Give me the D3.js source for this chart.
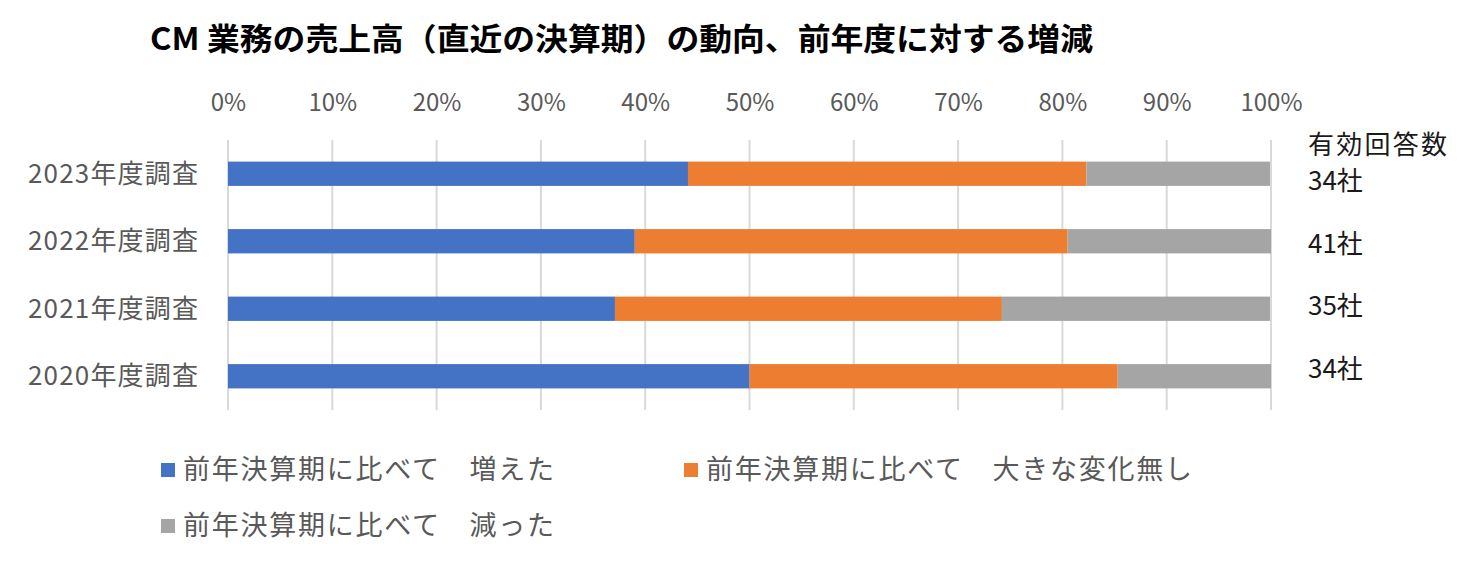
<!DOCTYPE html>
<html lang="ja">
<head>
<meta charset="UTF-8">
<title>CM業務の売上高の動向</title>
<script src="https://cdnjs.cloudflare.com/ajax/libs/d3/7.8.5/d3.min.js"></script>
<style>
  body { margin: 0; background: #fff; }
  svg text { font-family: "Noto Sans CJK JP", "Noto Sans", sans-serif; }
</style>
</head>
<body>
<div id="chart"></div>
<script>
// survey years, top to bottom
const categories = ["2023年度調査", "2022年度調査", "2021年度調査", "2020年度調査"];
const seriesNames = ["前年決算期に比べて　増えた", "前年決算期に比べて　大きな変化無し", "前年決算期に比べて　減った"];
const seriesColors = ["#4472c4", "#ed7d31", "#a5a5a5"];
// share of respondents (%)
const increased = [44.1, 39.0, 37.1, 50.0];
const unchanged = [38.2, 41.5, 37.1, 35.3];
const decreased = [17.6, 19.5, 25.7, 14.7];
const respondents = ["34社", "41社", "35社", "34社"];
const tickValues = [0, 10, 20, 30, 40, 50, 60, 70, 80, 90, 100];

const W = 1478, H = 561;
const margin = { left: 228, right: 207 };

const svg = d3.select("#chart").append("svg")
  .attr("width", W).attr("height", H);

svg.append("text")
  .attr("x", 150).attr("y", 50)
  .attr("font-size", 31).attr("font-weight", "bold")
  .attr("fill", "#000")
  .attr("textLength", 943).attr("lengthAdjust", "spacingAndGlyphs")
  .text("CM 業務の売上高（直近の決算期）の動向、前年度に対する増減");

const x = d3.scaleLinear().domain([0, 100]).range([margin.left, W - margin.right]);
const y = d3.scaleBand().domain(categories).range([140, 410]).paddingInner(0.64).paddingOuter(0.32);

// gridlines
svg.append("g").selectAll("line").data(tickValues).join("line")
  .attr("x1", d => x(d)).attr("x2", d => x(d))
  .attr("y1", 140).attr("y2", 410)
  .attr("stroke", "#d9d9d9").attr("stroke-width", 2);

// top axis labels
const axis = svg.append("g").attr("transform", "translate(0,111)")
  .call(d3.axisTop(x).tickValues(tickValues).tickFormat(d => d + "%").tickSize(0).tickPadding(0));
axis.select(".domain").remove();
axis.selectAll("text")
  .attr("font-family", "'Open Sans', 'Noto Sans', sans-serif")
  .attr("font-size", 24).attr("fill", "#595959");

// stacked bars
const rows = categories.map((c, i) => ({ cat: c, vals: [increased[i], unchanged[i], decreased[i]] }));
const stack = rows.map(r => {
  let acc = 0;
  return r.vals.map((v, k) => { const s = { cat: r.cat, k, x0: acc, x1: acc + v }; acc += v; return s; });
}).flat();

svg.append("g").selectAll("rect").data(stack).join("rect")
  .attr("x", d => x(d.x0))
  .attr("width", d => x(d.x1) - x(d.x0))
  .attr("y", d => y(d.cat))
  .attr("height", y.bandwidth())
  .attr("fill", d => seriesColors[d.k]);

// category labels
svg.append("g").selectAll("text").data(categories).join("text")
  .attr("x", 198).attr("y", d => y(d) + y.bandwidth() / 2)
  .attr("dy", "0.35em").attr("text-anchor", "end")
  .attr("font-size", 26).attr("fill", "#595959")
  .attr("textLength", 170).attr("lengthAdjust", "spacing")
  .text(d => d);

// respondents (text boxes at the right)
const ry = d3.scaleLinear().domain([0, 3]).range([181, 369]);
svg.append("text").attr("x", 1308).attr("y", 145).attr("dy", "0.35em")
  .attr("font-size", 26).attr("fill", "#1a1a1a")
  .attr("textLength", 139).attr("lengthAdjust", "spacing")
  .text("有効回答数");
svg.append("g").selectAll("text").data(respondents).join("text")
  .attr("x", 1308).attr("y", (d, i) => ry(i))
  .attr("dy", "0.35em")
  .attr("font-size", 26).attr("fill", "#1a1a1a")
  .text(d => d);

// legend
const legendPos = [[161, 470], [684, 470], [161, 526]];
const legendLen = [371, 486, 371];
const lg = svg.append("g").selectAll("g").data(seriesNames).join("g")
  .attr("transform", (d, i) => `translate(${legendPos[i][0]},${legendPos[i][1]})`);
lg.append("rect").attr("x", 0).attr("y", -7).attr("width", 14).attr("height", 14)
  .attr("fill", (d, i) => seriesColors[i]);
lg.append("text").attr("x", 22).attr("dy", "0.35em")
  .attr("font-size", 27).attr("fill", "#595959")
  .attr("textLength", (d, i) => legendLen[i]).attr("lengthAdjust", "spacing")
  .text(d => d);
</script>
</body>
</html>
